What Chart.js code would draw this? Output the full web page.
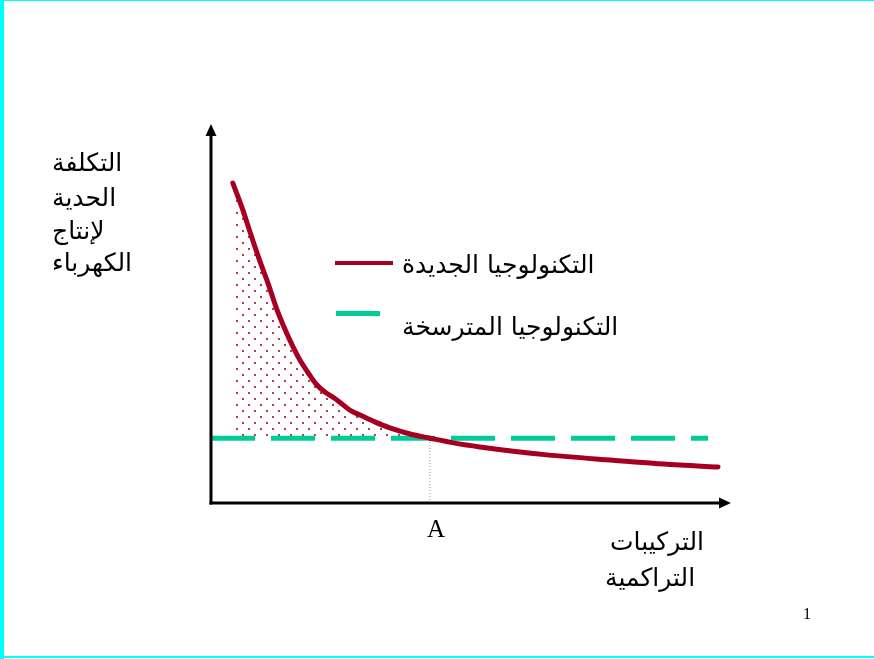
<!DOCTYPE html>
<html>
<head>
<meta charset="utf-8">
<script src="https://cdn.jsdelivr.net/npm/chart.js@4/dist/chart.umd.min.js"></script>
<style>
html,body{margin:0;padding:0;background:#fff;}
#wrap{position:relative;width:874px;height:659px;overflow:hidden;background:#fff;}
canvas{position:absolute;left:0;top:0;}
.t{position:absolute;white-space:nowrap;font-family:"DejaVu Sans",sans-serif;color:#000;line-height:1;font-size:25px;}
.s{position:absolute;white-space:nowrap;font-family:"Liberation Serif","Times New Roman",serif;color:#000;line-height:1;}
.bl{position:absolute;background:#00ffff;}
.sw{position:absolute;}
</style>
</head>
<body>
<div id="wrap">
<canvas id="c" width="874" height="659"></canvas>
<div class="bl" style="left:0;top:0;width:4px;height:659px"></div>
<div class="bl" style="left:0;top:0;width:874px;height:1px"></div>
<div class="bl" style="left:0;top:656px;width:874px;height:2px"></div>

<div class="t" dir="rtl" style="left:52px;top:150px">التكلفة</div>
<div class="t" dir="rtl" style="left:52px;top:185px">الحدية</div>
<div class="t" dir="rtl" style="left:52px;top:218px">لإنتاج</div>
<div class="t" dir="rtl" style="left:52px;top:250px">الكهرباء</div>

<div class="sw" style="left:335px;top:261px;width:58px;height:4px;background:#a50021"></div>
<div class="t" dir="rtl" style="left:402px;top:252px">التكنولوجيا الجديدة</div>
<div class="sw" style="left:336px;top:311px;width:44px;height:5px;background:#00cc99"></div>
<div class="t" dir="rtl" style="left:402px;top:314px">التكنولوجيا المترسخة</div>

<div class="t" dir="rtl" style="left:610px;top:529px">التركيبات</div>
<div class="t" dir="rtl" style="left:605px;top:565px">التراكمية</div>

<div class="s" style="left:427px;top:516px;font-size:25px">A</div>
<div class="s" style="left:803px;top:606px;font-size:16px">1</div>
</div>
<script>
// Data (scale units: x 0..100 along the horizontal axis, y 0..100 along the vertical axis)
const newTechX = [4.2, 6.0, 7.5, 9.2, 11.0, 12.5, 14.2, 15.6, 17.1, 18.7, 20.2, 21.9, 23.7, 25.2, 26.7, 29.0, 31.5, 34.4, 38.3, 42.1, 46.9, 51.7, 64.6, 77.3, 90.2, 97.5];
const newTechY = [84.4, 77.8, 71.5, 64.6, 57.8, 51.7, 45.9, 41.7, 37.7, 34.3, 31.4, 29.3, 27.7, 26.1, 24.5, 23.0, 21.4, 19.8, 18.2, 17.1, 15.8, 14.8, 12.7, 11.3, 10.0, 9.5];
const matureLevel = 17.1;
const matureX = [0, 95.6];
const pointA = 42.1;
const seriesNames = ["التكنولوجيا الجديدة", "التكنولوجيا المترسخة"];

const newTech = newTechX.map((x, i) => ({x: x, y: newTechY[i]}));
const fillPts = newTech.filter(p => p.x <= pointA);
const mature = matureX.map(x => ({x: x, y: matureLevel}));
const vline = [{x: pointA, y: 0}, {x: pointA, y: matureLevel}];

// dotted pattern for shaded area
const pc = document.createElement('canvas');
pc.width = 12; pc.height = 12;
const pctx = pc.getContext('2d');
pctx.fillStyle = 'rgba(170,40,60,0.9)';
pctx.fillRect(2, 2, 2, 2);
pctx.fillRect(8, 8, 2, 2);
const ctx0 = document.getElementById('c').getContext('2d');
const pattern = ctx0.createPattern(pc, 'repeat');

const axesPlugin = {
  id: 'axesArrows',
  afterDatasetsDraw(chart) {
    const c = chart.ctx, xs = chart.scales.x, ys = chart.scales.y;
    const x0 = xs.getPixelForValue(0), y0 = ys.getPixelForValue(0);
    const xTip = xs.getPixelForValue(100), yTip = ys.getPixelForValue(100);
    c.save();
    c.strokeStyle = '#000'; c.fillStyle = '#000'; c.lineWidth = 3; c.lineCap = 'butt';
    c.beginPath(); c.moveTo(x0, y0 + 1.5); c.lineTo(x0, yTip + 10); c.stroke();
    c.beginPath(); c.moveTo(x0 - 1.5, y0); c.lineTo(xTip - 10, y0); c.stroke();
    c.beginPath(); c.moveTo(x0, yTip); c.lineTo(x0 - 5.5, yTip + 12); c.lineTo(x0 + 5.5, yTip + 12); c.closePath(); c.fill();
    c.beginPath(); c.moveTo(xTip, y0); c.lineTo(xTip - 12, y0 - 5.5); c.lineTo(xTip - 12, y0 + 5.5); c.closePath(); c.fill();
    c.restore();
  }
};

new Chart(document.getElementById('c'), {
  type: 'line',
  data: {
    datasets: [
      {label: 'area', data: fillPts, borderColor: 'rgba(0,0,0,0)', borderWidth: 0, pointRadius: 0,
       fill: {value: matureLevel}, backgroundColor: pattern, cubicInterpolationMode: 'monotone', order: 5},
      {label: 'A', data: vline, borderColor: '#999', borderWidth: 1, borderDash: [1, 2], pointRadius: 0, fill: false, order: 4},
      {label: seriesNames[1], data: mature, borderColor: '#00cc99', borderWidth: 5, borderDash: [44, 16],
       borderCapStyle: 'butt', pointRadius: 0, fill: false, order: 3},
      {label: seriesNames[0], data: newTech, borderColor: '#a50021', borderWidth: 5, borderCapStyle: 'round',
       borderJoinStyle: 'round', pointRadius: 0, fill: false, cubicInterpolationMode: 'monotone', order: 1}
    ]
  },
  options: {
    responsive: false, animation: false, devicePixelRatio: 1,
    layout: {padding: {left: 211, right: 143, top: 124, bottom: 156}},
    plugins: {legend: {display: false}, tooltip: {enabled: false}},
    scales: {
      x: {type: 'linear', min: 0, max: 100, display: false},
      y: {type: 'linear', min: 0, max: 100, display: false}
    },
    clip: false
  },
  plugins: [axesPlugin]
});
</script>
</body>
</html>
